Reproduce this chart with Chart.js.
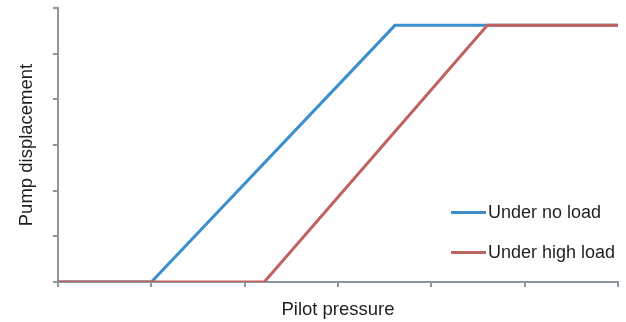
<!DOCTYPE html>
<html>
<head>
<meta charset="utf-8">
<script src="https://cdn.jsdelivr.net/npm/chart.js@4"></script>
<style>
  html, body { margin: 0; padding: 0; background: #fff; }
  #wrap { position: relative; width: 626px; height: 322px; }
  #legend { position: absolute; left: 451px; top: 200px; font-family: "Liberation Sans", Arial, sans-serif; font-size: 18px; color: #1e1e1e; }
  .item { display: flex; align-items: center; height: 24px; margin-bottom: 16px; }
  .swatch { width: 35px; height: 3px; margin-right: 2px; }
</style>
</head>
<body>
<div id="wrap">
  <canvas id="chart" width="626" height="322"></canvas>
  <div id="legend"></div>
</div>
<script>
const seriesNames = ['Under no load', 'Under high load'];
const seriesColors = ['#3b8fcd', '#c0625f'];
const noLoadX = [0, 1, 3.61, 6];
const noLoadY = [0, 0, 5.62, 5.62];
const highLoadX = [0, 2.21, 4.6, 6];
const highLoadY = [0, 0, 5.62, 5.62];

const toPoints = (xs, ys) => xs.map((x, i) => ({ x: x, y: ys[i] }));

const axisColor = '#8d959d';
const font = { family: '"Liberation Sans", Arial, sans-serif', size: 18.5 };

new Chart(document.getElementById('chart').getContext('2d'), {
  type: 'line',
  data: {
    datasets: [
      {
        label: seriesNames[1],
        data: toPoints(highLoadX, highLoadY),
        borderColor: seriesColors[1],
        borderWidth: 3,
        pointRadius: 0,
        tension: 0
      },
      {
        label: seriesNames[0],
        data: toPoints(noLoadX, noLoadY),
        borderColor: seriesColors[0],
        borderWidth: 3,
        pointRadius: 0,
        tension: 0,
        order: 1
      }
    ]
  },
  options: {
    responsive: false,
    animation: false,
    layout: { padding: { left: 12, top: 8, right: 8, bottom: 0 } },
    plugins: { legend: { display: false }, tooltip: { enabled: false } },
    scales: {
      x: {
        type: 'linear',
        min: 0,
        max: 6,
        ticks: { display: false, stepSize: 1 },
        grid: { drawOnChartArea: false, color: axisColor, lineWidth: 2, tickLength: 5 },
        border: { color: axisColor, width: 2 },
        title: { display: true, text: 'Pilot pressure', color: '#1e1e1e', font: font, padding: { top: 4, bottom: 1 } },
        afterFit: (scale) => { scale.height = 40; }
      },
      y: {
        min: 0,
        max: 6,
        ticks: { display: false, stepSize: 1 },
        grid: { drawOnChartArea: false, color: axisColor, lineWidth: 2, tickLength: 5 },
        border: { color: axisColor, width: 2 },
        title: { display: true, text: 'Pump displacement', color: '#1e1e1e', font: font },
        afterFit: (scale) => { scale.width = 46; }
      }
    }
  }
});

const legend = document.getElementById('legend');
seriesNames.forEach((name, i) => {
  const item = document.createElement('div');
  item.className = 'item';
  item.innerHTML = '<span class="swatch" style="background:' + seriesColors[i] + '"></span>' + name;
  legend.appendChild(item);
});
</script>
</body>
</html>
